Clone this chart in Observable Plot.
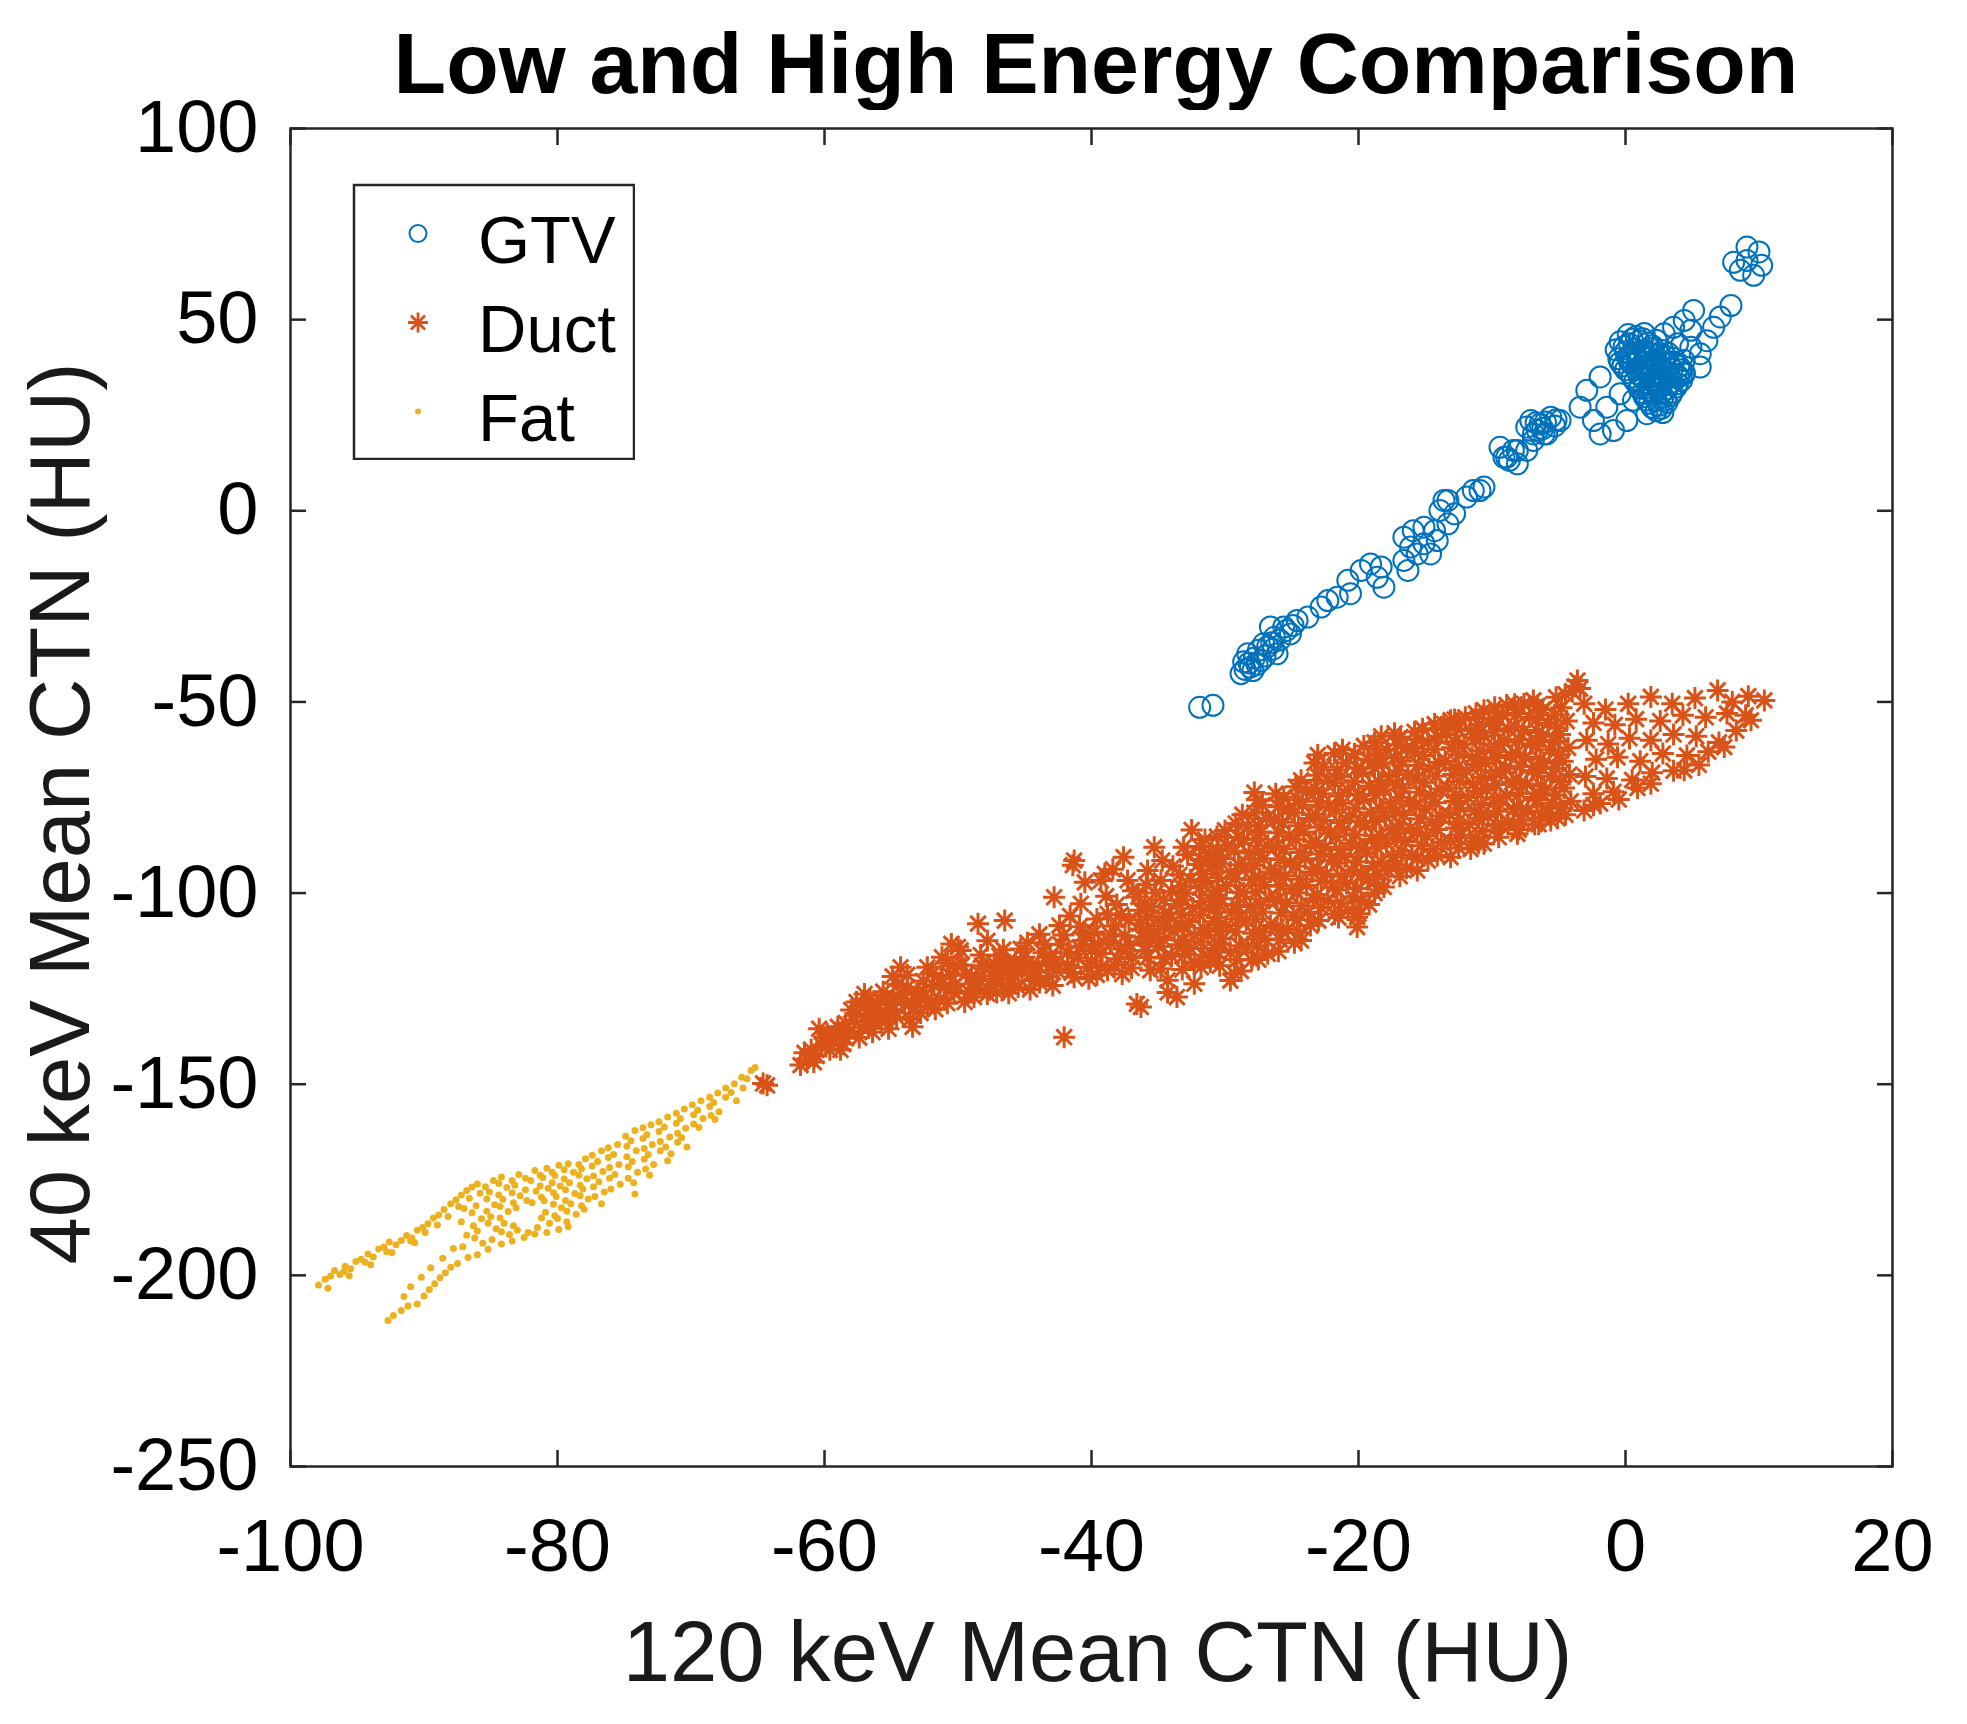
<!DOCTYPE html>
<html>
<head>
<meta charset="utf-8">
<script src="https://cdn.jsdelivr.net/npm/d3@7"></script>
<script src="https://cdn.jsdelivr.net/npm/@observablehq/plot@0.6"></script>
<style>
  html, body { margin: 0; padding: 0; background: #ffffff; }
  #wrap { position: relative; width: 1967px; height: 1724px; background: #ffffff; font-family: "Liberation Sans", Arial, Helvetica, sans-serif; }
  #title { position: absolute; left: 290px; width: 1612px; top: 20px; text-align: center; font-size: 86px; line-height: 86px; font-weight: bold; color: #000; }
  #chart { position: absolute; left: 0; top: 110px; }
  #legend { position: absolute; left: 351.5px; top: 182.5px; }
</style>
</head>
<body>
<div id="wrap">
  <div id="title">Low and High Energy Comparison</div>
  <div id="chart"></div>
  <div id="legend"></div>
</div>
<script>
// ---- Data ----
const titleText = "Low and High Energy Comparison";
const xLabel = "120 keV Mean CTN (HU)";
const yLabel = "40 keV Mean CTN (HU)";
const xTicks = [-100, -80, -60, -40, -20, 0, 20];
const yTicks = [-250, -200, -150, -100, -50, 0, 50, 100];
const seriesNames = ["GTV", "Duct", "Fat"];
const seriesColors = ["#0072BD", "#D95319", "#EDB120"];

// GTV: [120 keV, 40 keV]
const gtv = [
  [-31.9,-51.4],[-30.9,-50.9],
  [-28.8,-42.6],[-28.1,-40.9],[-28.3,-37.4],[-27.3,-39.2],[-27.1,-34.8],[-26.3,-33.1],[-26.1,-37.4],
  [-25.6,-30.4],[-25.1,-32.2],[-26.6,-30.4],[-24.6,-28.7],[-23.8,-27.8],[-22.8,-25.2],[-22.3,-23.5],
  [-21.6,-22.6],[-20.6,-21.7],[-20.8,-18.2],[-19.8,-15.6],[-19.1,-13.9],[-18.6,-17.4],[-18.1,-20.0],[-18.3,-14.7],
  [-28.5,-41.5],[-27.8,-38.5],[-27.5,-36.5],[-26.8,-35.5],[-26.5,-34.5],[-25.9,-33.8],[-25.4,-31.3],[-24.9,-30.0],
  [-27.9,-41.8],[-28.6,-39.5],[-28.2,-39.8],[-27.6,-40.2],[-27.0,-38.0],[-26.4,-36.2],
  [-16.6,-6.9],[-15.9,-5.2],[-15.1,-4.3],[-14.3,-5.2],[-16.1,-9.5],[-15.1,-8.6],[-14.1,-7.8],[-16.6,-13.0],
  [-15.6,-11.3],[-14.6,-11.3],[-16.3,-15.6],[-13.3,-3.4],[-12.8,-0.8],[-13.6,2.7],[-11.9,3.6],[-10.9,5.3],
  [-11.4,5.3],[-10.6,6.2],[-13.3,2.7],[-13.9,0.1],
  [-8.9,14.0],[-8.1,15.8],[-6.9,18.4],[-6.1,20.1],[-7.4,21.9],
  [-9.1,14.0],[-8.4,15.8],[-8.1,12.3],[-7.4,15.8],[-9.4,16.6],[-8.7,13.2],
  [-6.4,22.7],[-7.1,23.6],[-5.6,24.5],[-4.9,23.6],[-6.9,20.1],[-5.9,20.1],[-6.2,21.5],[-5.3,22.2],
  [-6.7,23.0],[-6.0,23.2],[-5.2,23.8],[-6.6,21.0],
  [-1.9,35.0],[-2.9,31.5],[-3.4,27.1],[-2.4,23.6],[-1.9,20.1],[-0.9,21.0],[0.1,23.6],[-1.4,27.1],
  [-0.4,30.6],[0.6,28.9],[1.6,25.4],[1.1,32.3],
  [0.2,46.1],[0.8,45.6],[1.4,46.4],
  [-0.4,44.2],[0.3,43.7],[1.0,44.4],[1.7,43.9],[2.3,44.6],
  [-0.7,42.1],[0.0,41.6],[0.7,42.3],[1.4,41.8],[2.1,42.5],[2.8,41.9],
  [-0.5,39.8],[0.2,40.3],[0.9,39.6],[1.6,40.2],[2.3,39.7],[3.0,40.4],[3.6,39.9],
  [-0.2,37.9],[0.5,38.4],[1.2,37.7],[1.9,38.2],[2.6,37.6],[3.3,38.3],[4.0,37.8],
  [0.3,36.1],[1.0,35.6],[1.7,36.3],[2.4,35.8],[3.1,36.4],[3.8,35.7],[4.4,36.2],
  [0.7,33.9],[1.4,34.4],[2.1,33.7],[2.8,34.2],[3.5,33.6],[4.2,34.1],
  [1.0,32.1],[1.7,31.6],[2.4,32.3],[3.1,31.8],[3.8,32.4],
  [1.4,29.8],[2.1,30.3],[2.8,29.7],[3.4,30.2],
  [1.8,28.1],[2.5,27.6],[3.1,28.3],
  [2.3,26.2],[2.8,25.7],
  [0.5,44.9],[1.3,45.0],[2.0,43.2],[-0.1,43.0],[0.4,41.0],[1.1,40.9],[1.8,41.1],[2.5,40.8],[3.2,41.2],
  [-0.4,38.8],[0.3,39.0],[1.5,38.9],[2.2,39.0],[2.9,38.8],[3.6,38.9],[0.0,36.9],[0.8,37.0],[1.4,36.9],
  [2.1,37.0],[2.8,36.8],[3.5,37.0],[4.2,36.9],[0.5,35.0],[1.2,35.1],[1.9,34.9],[2.6,35.0],[3.3,34.9],
  [4.0,35.0],[1.1,33.1],[1.8,33.0],[2.5,33.1],[3.2,33.0],[3.9,33.2],[1.3,30.9],[2.0,31.0],[2.7,30.9],
  [3.5,31.0],[1.6,29.0],[2.3,28.9],[3.0,29.0],[2.0,27.0],[2.7,26.8],
  [7.9,53.7],[7.1,50.7],[6.6,48.0],[6.1,44.5],[5.6,41.1],[5.6,37.6],[5.1,52.4],[4.4,49.8],
  [4.9,47.2],[4.9,42.8],[3.6,48.0],[2.9,46.3],[3.9,43.7],[4.4,39.3],[4.4,35.8],
  [8.1,65.0],[9.1,69.0],[10.0,67.7],[10.2,64.2],[9.6,61.6],[8.6,62.9],[9.1,65.5]
];

// Duct: [120 keV, 40 keV]
const duct = [
  [-64.3,-150.3],[-64.6,-149.8],
  [-61.8,-145.0],[-61.3,-143.5],[-61.5,-141.8],[-60.8,-144.2],
  [-60.2,-139.8],[-60.0,-137.7],[-59.6,-141.0],[-59.3,-138.5],[-60.4,-135.5],
  [-58.6,-139.5],[-58.2,-136.2],[-57.8,-133.4],[-58.0,-130.6],[-57.4,-137.8],
  [-57.0,-126.4],[-56.7,-131.8],[-56.4,-136.4],[-56.2,-134.0],[-56.0,-129.2],
  [-55.4,-133.5],[-55.0,-130.6],[-54.8,-127.4],[-54.5,-124.0],[-54.3,-119.4],[-55.2,-135.5],
  [-53.6,-133.0],[-53.3,-129.8],[-53.0,-126.2],[-52.6,-123.0],[-52.3,-119.4],[-52.8,-131.4],
  [-51.7,-130.4],[-51.4,-127.8],[-51.0,-124.6],[-50.6,-121.5],[-50.5,-113.3],[-50.0,-114.1],[-49.8,-115.0],[-50.8,-118.3],
  [-49.5,-128.5],[-49.2,-125.8],[-48.8,-127.2],[-48.5,-122.4],[-48.5,-108.0],[-48.0,-119.8],[-47.6,-124.0],
  [-47.1,-126.0],[-46.8,-121.2],[-46.5,-107.2],[-46.4,-118.6],[-46.0,-123.6],[-45.5,-124.6],[-45.2,-120.3],[-45.0,-116.8],
  [-44.3,-122.9],[-44.0,-119.0],[-43.6,-115.6],[-43.2,-121.8],[-42.8,-101.1],[-42.7,-118.2],[-42.3,-113.5],[-42.05,-137.7],
  [-41.3,-91.5],[-41.4,-92.7],[-41.3,-122.0],[-41.0,-117.0],[-40.8,-102.8],[-40.6,-112.4],[-40.3,-119.5],[-40.0,-115.0],[-39.8,-110.2],
  [-39.3,-96.7],[-39.3,-119.4],[-39.0,-95.0],[-38.8,-105.4],[-38.8,-120.2],[-38.6,-113.0],[-38.2,-108.6],[-38.0,-117.2],
  [-37.6,-90.6],[-37.3,-96.7],[-37.5,-111.2],
  [-59.0,-135.0],[-58.8,-141.0],[-57.6,-128.5],[-57.2,-135.2],[-56.6,-127.8],[-55.8,-132.2],[-55.6,-125.8],[-54.9,-121.8],
  [-54.0,-129.2],[-53.8,-121.4],[-53.4,-135.0],[-52.0,-128.4],[-51.9,-121.0],[-51.2,-116.8],[-50.3,-126.2],[-50.0,-119.0],
  [-49.0,-122.0],[-48.3,-116.2],[-47.8,-112.5],[-47.3,-118.4],[-46.6,-114.8],[-46.2,-126.2],[-45.7,-118.0],[-44.8,-113.0],
  [-44.6,-125.2],[-43.9,-110.8],[-43.4,-118.0],[-42.9,-124.2],[-42.4,-108.5],[-41.8,-115.6],[-41.6,-106.0],[-40.9,-108.8],
  [-40.5,-97.2],[-40.2,-122.4],[-39.6,-106.8],[-39.5,-113.4],[-38.9,-100.8],[-38.4,-93.8],[-38.1,-103.0],[-37.8,-114.6],
  [-37.2,-107.0],[-37.0,-119.6],[-36.9,-99.4],
  [-61.0,-141.0],[-60.6,-142.6],[-59.8,-136.8],[-59.9,-139.2],[-59.1,-137.2],[-58.4,-134.0],[-58.4,-138.0],[-57.6,-131.6],
  [-57.0,-129.8],[-56.8,-133.6],[-56.2,-131.0],[-55.8,-128.0],[-55.2,-129.0],[-54.6,-132.4],[-54.2,-126.4],[-53.8,-124.6],
  [-53.2,-127.8],[-52.6,-125.6],[-52.3,-129.6],[-51.8,-124.2],[-51.2,-122.4],[-50.8,-128.8],[-50.2,-123.8],[-49.7,-118.8],
  [-49.4,-121.2],[-48.6,-124.8],[-48.2,-119.0],[-47.8,-126.4],[-47.2,-121.6],[-46.9,-116.4],[-46.6,-124.4],[-46.2,-119.6],
  [-45.8,-121.6],[-45.3,-114.6],[-44.9,-118.6],[-44.4,-120.6],[-43.9,-123.4],[-43.5,-113.4],[-43.1,-116.8],[-42.6,-120.2],
  [-42.1,-111.0],[-41.8,-118.8],[-41.5,-120.8],[-40.9,-114.2],[-40.5,-110.4],[-40.0,-117.8],[-39.6,-121.4],[-39.2,-115.8],
  [-38.6,-110.8],[-38.3,-118.8],[-37.8,-105.6],[-37.7,-121.2],[-37.1,-113.6],[-36.9,-116.8],
  [-36.6,-129.0],[-36.3,-129.8],[-36.5,-101.0],[-36.3,-104.5],[-36.4,-108.0],[-36.2,-111.5],[-36.0,-115.0],
  [-35.9,-97.8],[-36.0,-102.8],[-35.8,-106.2],[-35.9,-109.6],[-35.7,-113.0],[-35.8,-116.8],[-35.6,-120.2],
  [-35.3,-88.0],[-35.8,-94.1],[-34.8,-96.7],[-35.2,-100.0],[-35.5,-103.5],[-35.0,-107.0],[-35.3,-110.5],[-35.0,-114.0],[-34.6,-117.0],
  [-34.7,-91.5],[-34.6,-101.8],[-34.5,-105.2],[-34.5,-108.6],[-34.6,-112.2],[-34.8,-119.8],
  [-34.3,-122.8],[-34.3,-126.0],[-33.6,-127.2],[-33.9,-93.0],[-34.0,-99.5],[-33.6,-103.0],[-34.1,-106.5],[-33.8,-110.0],[-33.5,-113.5],[-34.0,-116.5],
  [-33.4,-95.2],[-33.3,-98.2],[-33.2,-101.8],[-33.3,-105.4],[-33.2,-108.8],[-33.1,-112.4],[-33.0,-116.0],[-33.2,-120.0],
  [-33.1,-88.0],[-32.5,-83.5],[-32.8,-90.0],[-32.6,-96.5],[-32.9,-100.0],[-32.4,-104.0],[-32.7,-107.5],[-32.3,-111.0],[-32.6,-114.5],[-32.3,-118.0],[-32.3,-123.7],[-32.0,-92.5],
  [-31.9,-87.8],[-31.8,-91.2],[-31.7,-95.0],[-31.9,-98.6],[-31.7,-102.2],[-31.9,-105.8],[-31.6,-109.2],[-31.8,-112.8],[-31.6,-116.2],
  [-31.5,-86.0],[-31.2,-89.5],[-31.0,-93.0],[-31.4,-97.0],[-30.9,-100.5],[-31.2,-104.0],[-30.8,-107.5],[-31.3,-111.0],[-30.8,-114.5],[-31.1,-118.0],[-31.8,-119.4],
  [-30.6,-85.2],[-30.5,-88.8],[-30.7,-92.4],[-30.5,-96.0],[-30.6,-99.4],[-30.4,-103.0],[-30.6,-106.4],[-30.4,-110.0],[-30.5,-113.4],[-30.7,-116.8],
  [-30.0,-83.6],[-29.8,-87.5],[-30.2,-91.0],[-29.6,-94.5],[-29.9,-98.0],[-30.3,-101.5],[-29.5,-105.0],[-29.9,-108.5],[-30.2,-112.0],[-29.6,-115.5],[-29.3,-121.1],[-29.6,-122.9],[-30.4,-119.0],
  [-29.2,-81.8],[-29.0,-85.4],[-29.3,-89.0],[-29.0,-92.6],[-29.2,-96.2],[-28.9,-99.8],[-29.1,-103.2],[-29.0,-106.8],[-29.2,-110.2],[-28.9,-113.8],[-29.1,-117.4],[-28.8,-120.4],
  [-28.7,-79.5],[-28.3,-82.5],[-28.6,-86.0],[-28.2,-89.5],[-28.5,-93.0],[-28.0,-96.5],[-28.6,-100.0],[-28.1,-103.5],[-28.4,-107.0],[-27.9,-110.5],[-28.3,-114.0],[-28.0,-117.5],
  [-27.6,-75.6],[-27.8,-79.0],[-27.5,-82.4],[-27.7,-85.8],[-27.5,-89.2],[-27.8,-92.8],[-27.4,-96.2],[-27.7,-99.8],[-27.4,-103.2],[-27.7,-106.8],[-27.4,-110.2],[-27.6,-113.8],[-27.5,-117.4],
  [-27.8,-73.7],[-27.2,-77.0],[-26.9,-80.5],[-27.3,-84.0],[-26.8,-87.5],[-27.1,-91.0],[-26.6,-94.5],[-27.0,-98.0],[-26.7,-101.5],[-27.2,-105.0],[-26.6,-108.5],[-27.0,-112.0],[-26.8,-115.9],
  [-26.2,-74.0],[-26.0,-77.4],[-26.3,-80.8],[-26.0,-84.2],[-26.2,-87.8],[-25.9,-91.2],[-26.2,-94.8],[-25.9,-98.2],[-26.1,-101.8],[-25.8,-105.2],[-26.1,-108.8],[-25.9,-112.2],[-26.0,-115.2],
  [-25.6,-74.9],[-25.3,-78.0],[-25.7,-81.5],[-25.2,-85.0],[-25.6,-88.5],[-25.1,-92.0],[-25.5,-95.5],[-25.0,-99.0],[-25.4,-102.5],[-24.9,-106.0],[-25.3,-109.5],[-24.8,-113.0],
  [-24.7,-72.2],[-24.5,-75.6],[-24.8,-79.0],[-24.5,-82.4],[-24.7,-86.0],[-24.4,-89.4],[-24.7,-93.0],[-24.4,-96.4],[-24.6,-100.0],[-24.3,-103.4],[-24.6,-107.0],[-24.4,-110.4],
  [-24.3,-70.5],[-23.9,-73.5],[-24.2,-77.0],[-23.7,-80.5],[-24.1,-84.0],[-23.6,-87.5],[-24.0,-91.0],[-23.5,-94.5],[-23.9,-98.0],[-23.4,-101.5],[-23.8,-105.0],[-24.3,-112.4],[-23.6,-108.5],
  [-23.3,-66.0],[-23.1,-69.2],[-23.3,-72.6],[-23.0,-76.0],[-23.2,-79.4],[-22.9,-82.8],[-23.2,-86.4],[-22.9,-89.8],[-23.1,-93.4],[-22.8,-96.8],[-23.1,-100.4],[-22.8,-103.8],[-23.0,-107.2],
  [-23.05,-63.9],[-22.6,-67.0],[-22.3,-70.5],[-22.7,-74.0],[-22.2,-77.5],[-22.6,-81.0],[-22.1,-84.5],[-22.5,-88.0],[-22.0,-91.5],[-22.4,-95.0],[-21.9,-98.5],[-22.3,-102.0],[-21.8,-105.5],
  [-21.8,-63.4],[-21.6,-67.8],[-21.8,-71.2],[-21.5,-74.6],[-21.7,-78.2],[-21.4,-81.6],[-21.7,-85.2],[-21.4,-88.6],[-21.6,-92.2],[-21.3,-95.6],[-21.6,-99.2],[-21.3,-102.6],[-21.5,-106.4],
  [-21.2,-62.5],[-20.9,-66.0],[-21.3,-69.5],[-20.8,-73.0],[-21.2,-76.5],[-20.7,-80.0],[-21.1,-83.5],[-20.6,-87.0],[-21.0,-90.5],[-20.5,-94.0],[-20.9,-97.5],[-20.4,-101.0],[-20.8,-104.5],[-20.1,-108.9],[-20.1,-106.3],
  [-20.3,-63.6],[-20.1,-67.2],[-20.3,-70.8],[-20.0,-74.2],[-20.2,-77.8],[-19.9,-81.2],[-20.2,-84.8],[-19.9,-88.2],[-20.1,-91.8],[-19.8,-95.2],[-20.1,-98.8],[-19.8,-102.2],[-20.0,-105.4],
  [-19.6,-61.5],[-19.3,-65.0],[-19.7,-68.5],[-19.2,-72.0],[-19.6,-75.5],[-19.1,-79.0],[-19.5,-82.5],[-19.0,-86.0],[-19.4,-89.5],[-18.9,-93.0],[-19.3,-96.5],[-18.8,-100.0],[-19.2,-103.0],
  [-18.8,-60.6],[-18.6,-63.8],[-18.8,-67.2],[-18.5,-70.8],[-18.7,-74.2],[-18.4,-77.8],[-18.7,-81.2],[-18.4,-84.8],[-18.6,-88.2],[-18.3,-91.8],[-18.6,-95.2],[-18.5,-98.0],
  [-18.3,-59.0],[-17.9,-62.5],[-18.2,-66.0],[-17.7,-69.5],[-18.1,-73.0],[-17.6,-76.5],[-18.0,-80.0],[-17.5,-83.5],[-17.9,-87.0],[-17.4,-90.5],[-17.8,-94.0],[-18.1,-98.4],
  [-17.3,-58.2],[-17.1,-61.2],[-17.3,-64.6],[-17.0,-68.0],[-17.2,-71.6],[-16.9,-75.0],[-17.2,-78.6],[-16.9,-82.0],[-17.1,-85.6],[-16.8,-89.0],[-17.1,-92.6],[-16.9,-95.6],
  [-16.85,-59.2],[-16.4,-62.0],[-16.8,-65.5],[-16.3,-69.0],[-16.7,-72.5],[-16.2,-76.0],[-16.6,-79.5],[-16.1,-83.0],[-16.5,-86.5],[-16.0,-90.0],[-16.4,-93.5],[-15.6,-94.1],
  [-15.8,-57.8],[-15.6,-59.8],[-15.8,-63.2],[-15.5,-66.6],[-15.7,-70.2],[-15.4,-73.6],[-15.7,-77.2],[-15.4,-80.6],[-15.6,-84.2],[-15.3,-87.6],[-15.6,-91.0],
  [-15.2,-57.0],[-14.8,-60.5],[-15.2,-64.0],[-14.7,-67.5],[-15.1,-71.0],[-14.6,-74.5],[-15.0,-78.0],[-14.5,-81.5],[-14.9,-85.0],[-14.4,-88.5],[-14.8,-91.5],
  [-14.3,-55.8],[-14.1,-59.0],[-14.3,-62.4],[-14.0,-65.8],[-14.2,-69.4],[-13.9,-72.8],[-14.2,-76.4],[-13.9,-79.8],[-14.1,-83.4],[-13.8,-86.8],[-14.1,-90.2],
  [-13.6,-55.7],[-13.1,-54.8],[-13.4,-58.5],[-13.0,-62.0],[-13.5,-65.5],[-12.9,-69.0],[-13.3,-72.5],[-12.8,-76.0],[-13.2,-79.5],[-12.7,-83.0],[-13.1,-86.5],[-13.1,-90.6],
  [-12.8,-54.6],[-12.6,-57.0],[-12.8,-60.4],[-12.5,-63.8],[-12.7,-67.4],[-12.4,-70.8],[-12.7,-74.4],[-12.4,-77.8],[-12.6,-81.4],[-12.3,-84.8],[-12.5,-88.2],
  [-12.0,-54.0],[-11.6,-57.5],[-12.1,-61.0],[-11.5,-64.5],[-11.9,-68.0],[-11.4,-71.5],[-11.8,-75.0],[-11.3,-78.5],[-11.7,-82.0],[-11.2,-85.5],[-11.6,-88.5],
  [-11.2,-53.0],[-11.0,-56.0],[-11.2,-59.4],[-10.9,-62.8],[-11.1,-66.4],[-10.8,-69.8],[-11.1,-73.4],[-10.8,-76.8],[-11.0,-80.4],[-10.7,-83.8],[-11.0,-87.0],
  [-10.6,-52.2],[-10.2,-55.5],[-10.6,-59.0],[-10.1,-62.5],[-10.5,-66.0],[-10.0,-69.5],[-10.4,-73.0],[-9.9,-76.5],[-10.3,-80.0],[-9.8,-83.5],[-10.6,-87.1],
  [-9.8,-51.4],[-9.6,-54.2],[-9.8,-57.6],[-9.5,-61.0],[-9.7,-64.6],[-9.4,-68.0],[-9.7,-71.6],[-9.4,-75.0],[-9.6,-78.6],[-9.3,-82.0],[-9.5,-85.4],
  [-8.9,-50.8],[-9.2,-53.5],[-8.8,-57.0],[-9.1,-60.5],[-8.6,-64.0],[-9.0,-67.5],[-8.5,-71.0],[-8.9,-74.5],[-8.4,-78.0],[-8.8,-81.5],[-8.1,-84.5],
  [-8.3,-50.6],[-8.1,-53.0],[-8.3,-56.4],[-8.0,-59.8],[-8.2,-63.4],[-7.9,-66.8],[-8.2,-70.4],[-7.9,-73.8],[-8.1,-77.4],[-7.8,-80.8],[-8.0,-83.4],
  [-7.6,-50.5],[-7.2,-54.0],[-7.6,-57.5],[-7.1,-61.0],[-7.5,-64.5],[-7.0,-68.0],[-7.4,-71.5],[-6.9,-75.0],[-7.3,-78.5],[-6.8,-82.0],
  [-6.6,-51.0],[-6.7,-54.6],[-6.5,-58.0],[-6.7,-61.6],[-6.4,-65.0],[-6.6,-68.6],[-6.3,-72.0],[-6.6,-75.6],[-6.3,-79.0],[-6.5,-82.0],
  [-6.9,-49.6],[-6.2,-52.0],[-5.8,-55.5],[-6.2,-59.0],[-5.7,-62.5],[-6.1,-66.0],[-5.6,-69.5],[-6.0,-73.0],[-5.5,-76.5],[-5.6,-81.0],[-5.9,-79.0],
  [-5.2,-48.8],[-5.3,-53.4],[-5.1,-56.8],[-5.3,-60.4],[-5.0,-63.8],[-5.2,-67.4],[-4.9,-70.8],[-5.2,-74.4],[-4.9,-77.8],[-5.1,-80.4],
  [-4.5,-48.0],[-4.8,-51.5],[-4.4,-55.0],[-4.9,-58.5],[-4.3,-62.0],[-4.7,-65.5],[-4.2,-69.0],[-4.6,-72.5],[-4.1,-76.0],[-4.5,-79.5],
  [-3.6,-44.4],[-3.8,-45.9],[-4.0,-47.2],[-3.4,-46.5],
  [-3.1,-50.5],[-1.5,-52.0],[0.2,-50.5],[1.9,-48.7],[3.5,-50.5],[5.2,-49.0],[6.9,-47.0],[8.0,-50.0],[9.2,-48.5],[10.4,-49.6],
  [-2.4,-55.5],[-0.8,-56.0],[0.8,-54.5],[2.6,-55.0],[4.3,-53.5],[6.0,-54.0],[7.6,-53.0],[9.0,-53.5],
  [-2.9,-60.0],[-1.3,-61.0],[0.3,-59.5],[1.9,-60.0],[3.6,-58.5],[5.3,-59.0],[7.0,-60.6],[8.3,-57.5],[9.4,-54.8],
  [-2.2,-65.0],[-0.6,-64.5],[1.1,-65.5],[2.8,-63.5],[4.6,-64.0],[6.2,-63.0],[7.4,-61.8],
  [-3.0,-69.5],[-1.4,-70.0],[0.5,-70.4],[2.0,-68.5],[3.6,-68.0],[4.4,-67.9],[5.5,-66.5],
  [-2.4,-74.0],[-0.9,-73.5],[0.9,-72.5],[1.9,-71.4],
  [-2.4,-77.0],[-1.9,-76.6],[-3.1,-78.4],[-0.5,-75.5]
];

// Fat: [120 keV, 40 keV]
const fat = [
  [-97.9,-202.5],[-97.4,-201.0],[-97.0,-200.2],[-96.7,-198.7],[-96.3,-199.8],[-95.9,-197.6],[-95.5,-198.3],[-95.1,-196.4],
  [-94.7,-195.8],[-94.2,-194.4],[-93.8,-195.2],[-93.4,-193.1],[-93.0,-192.6],[-92.6,-191.3],[-92.1,-192.0],[-91.7,-190.9],
  [-91.3,-189.6],[-90.9,-190.2],[-90.5,-188.2],[-90.1,-187.5],[-89.7,-186.5],[-89.3,-185.0],[-88.9,-184.2],[-88.5,-182.8],
  [-88.0,-181.3],[-87.6,-180.2],[-87.2,-179.0],[-86.8,-177.8],[-86.4,-176.9],[-86.0,-176.1],
  [-97.2,-203.4],[-95.6,-200.1],[-94.0,-197.2],[-92.4,-194.0],[-90.7,-191.5],
  [-96.0,-199.0],[-94.4,-196.6],[-92.8,-193.8],[-91.0,-191.0],[-89.9,-188.8],[-89.0,-186.8],[-88.2,-184.6],[-87.4,-182.0],[-86.6,-179.8],
  [-92.7,-211.8],[-92.3,-210.5],[-91.7,-209.2],[-91.2,-208.0],[-90.5,-207.5],[-90.0,-205.4],[-89.6,-203.7],[-89.2,-202.2],
  [-88.8,-200.6],[-88.4,-199.3],[-88.0,-197.9],[-87.5,-196.9],[-86.7,-195.3],[-86.0,-194.6],[-85.2,-193.2],[-84.2,-191.8],
  [-83.4,-191.0],[-82.5,-190.1],[-81.7,-189.2],[-80.8,-188.8],[-79.9,-188.0],[-79.2,-187.3],
  [-91.5,-205.5],[-91.0,-203.0],[-90.2,-200.5],[-89.5,-198.0],[-88.6,-195.5],[-87.8,-193.0],
  [-87.0,-182.5],[-87.2,-186.0],[-86.8,-189.5],[-87.1,-192.5],
  [-85.8,-178.5],[-86.1,-181.8],[-85.7,-185.2],[-86.0,-188.4],[-85.6,-191.6],
  [-86.4,-183.6],[-86.3,-187.0],[-86.2,-190.2],[-85.4,-176.8],[-85.3,-180.0],[-85.3,-183.2],[-85.2,-186.4],
  [-84.8,-175.2],[-85.1,-178.2],[-84.7,-181.5],[-85.0,-184.7],[-84.6,-187.8],[-84.9,-190.6],
  [-84.4,-176.0],[-84.4,-179.0],[-84.3,-182.0],[-84.3,-185.0],[-84.2,-188.6],
  [-84.2,-174.3],[-83.8,-177.0],[-84.1,-180.1],[-83.7,-183.3],[-84.0,-186.4],[-83.6,-189.3],
  [-83.4,-175.2],[-83.4,-178.4],[-83.3,-181.0],[-83.3,-187.0],
  [-82.9,-173.6],[-83.2,-176.4],[-82.8,-179.2],[-83.1,-182.3],[-83.0,-188.2],
  [-82.4,-174.6],[-82.4,-177.6],[-82.3,-180.4],[-82.2,-188.8],
  [-81.7,-172.6],[-82.0,-175.2],[-81.6,-178.0],[-81.9,-181.0],[-81.5,-187.5],
  [-81.3,-173.8],[-81.3,-176.6],[-81.2,-179.6],[-81.2,-185.0],
  [-80.8,-172.0],[-81.1,-174.4],[-80.7,-177.2],[-81.0,-180.5],[-80.6,-186.4],[-80.9,-183.5],
  [-80.4,-173.0],[-80.4,-175.8],[-80.3,-178.4],[-80.3,-181.4],[-80.2,-184.4],
  [-79.9,-171.2],[-80.2,-173.9],[-79.8,-176.6],[-80.1,-179.4],[-79.7,-182.3],[-80.0,-185.1],
  [-79.5,-172.4],[-79.5,-174.8],[-79.4,-177.6],[-79.4,-180.4],[-79.3,-183.2],[-79.3,-186.0],
  [-79.2,-170.8],[-78.8,-173.0],[-79.1,-175.8],[-78.7,-178.6],[-79.0,-181.3],[-78.6,-184.0],
  [-78.4,-171.0],[-78.4,-173.8],[-78.3,-176.4],[-78.3,-179.2],[-78.2,-181.8],
  [-77.9,-169.5],[-78.2,-172.1],[-77.8,-174.7],[-78.1,-177.4],[-77.7,-180.0],[-78.0,-182.7],
  [-77.4,-168.6],[-77.4,-171.4],[-77.3,-174.0],[-77.3,-176.8],[-77.2,-179.4],
  [-76.7,-167.4],[-77.0,-170.2],[-76.6,-172.8],[-76.9,-175.5],[-76.5,-178.2],[-76.7,-181.3],
  [-76.2,-166.6],[-76.2,-169.2],[-76.1,-171.8],[-76.1,-174.6],[-76.0,-177.4],
  [-75.5,-165.8],[-75.8,-168.4],[-75.4,-171.0],[-75.7,-173.6],[-75.3,-176.2],
  [-74.9,-163.6],[-74.8,-166.2],[-74.8,-169.0],[-74.7,-171.6],[-74.7,-174.6],
  [-74.2,-162.1],[-74.5,-164.8],[-74.1,-167.4],[-74.4,-170.2],[-74.0,-173.0],[-74.3,-175.8],[-74.2,-178.7],
  [-73.6,-161.4],[-73.6,-164.2],[-73.5,-166.8],[-73.5,-169.6],[-73.4,-172.2],
  [-73.0,-160.6],[-73.3,-163.2],[-72.9,-165.8],[-73.2,-168.4],[-72.8,-171.0],[-73.1,-173.8],
  [-72.4,-159.8],[-72.4,-162.4],[-72.3,-165.0],[-72.3,-167.4],
  [-71.75,-158.6],[-72.0,-161.2],[-71.6,-163.8],[-71.9,-166.4],[-71.5,-168.2],[-71.75,-170.0],
  [-71.1,-157.6],[-71.1,-160.2],[-71.0,-162.8],[-71.0,-165.2],
  [-70.5,-156.5],[-70.8,-159.0],[-70.4,-161.5],[-70.7,-164.0],[-70.3,-166.4],
  [-69.9,-155.4],[-69.8,-158.0],[-69.8,-160.4],
  [-69.25,-154.3],[-69.5,-156.8],[-69.1,-159.0],[-69.4,-161.3],
  [-68.6,-153.4],[-68.6,-155.8],[-68.5,-158.2],
  [-68.0,-152.3],[-68.3,-154.8],[-67.9,-157.2],[-68.2,-159.2],
  [-67.4,-151.0],[-67.4,-153.4],
  [-66.75,-149.9],[-67.0,-152.2],[-66.6,-154.3],
  [-66.2,-148.2],[-66.1,-151.0],
  [-65.5,-146.4],[-65.8,-148.6],[-65.2,-145.6]
];

// ---- Drawing ----
const FONT = "Liberation Sans, Arial, Helvetica, sans-serif";
const frameColor = "#262626";

// MATLAB-style "*" marker: a plus overlaid with an x
const starSymbol = {
  draw(context, size) {
    const r = Math.sqrt(size / Math.PI);
    const d = r * Math.SQRT1_2;
    context.moveTo(0, -r); context.lineTo(0, r);
    context.moveTo(-r, 0); context.lineTo(r, 0);
    context.moveTo(-d, -d); context.lineTo(d, d);
    context.moveTo(-d, d); context.lineTo(d, -d);
  }
};

const fmt = d => String(d);

const chart = Plot.plot({
  width: 1967,
  height: 1614,
  marginTop: 18,
  marginLeft: 290,
  marginRight: 75,
  marginBottom: 258,
  style: { fontFamily: FONT, background: "#ffffff", color: "#000000", overflow: "visible" },
  x: { domain: [-100, 20] },
  y: { domain: [-250, 100] },
  marks: [
    Plot.dot(gtv, { x: d => d[0], y: d => d[1], r: 10.5, stroke: seriesColors[0], strokeWidth: 2, fill: "none" }),
    Plot.dot(duct, { x: d => d[0], y: d => d[1], r: 11, symbol: starSymbol, stroke: seriesColors[1], strokeWidth: 3, fill: "none" }),
    Plot.dot(fat, { x: d => d[0], y: d => d[1], r: 3.5, fill: seriesColors[2], stroke: null }),
    Plot.frame({ stroke: frameColor, strokeWidth: 2.5 }),
    Plot.axisX(xTicks, { anchor: "bottom", tickSize: 0, tickPadding: 52, fontSize: 74, tickFormat: fmt, label: null, fill: "#000" }),
    Plot.axisX(xTicks, { anchor: "bottom", tickSize: -16, text: null, label: null, stroke: frameColor, strokeWidth: 2.5 }),
    Plot.axisX(xTicks, { anchor: "top", tickSize: -16, text: null, label: null, stroke: frameColor, strokeWidth: 2.5 }),
    Plot.axisY(yTicks, { anchor: "left", tickSize: 0, tickPadding: 32, fontSize: 74, tickFormat: fmt, label: null, fill: "#000" }),
    Plot.axisY(yTicks, { anchor: "left", tickSize: -16, text: null, label: null, stroke: frameColor, strokeWidth: 2.5 }),
    Plot.axisY(yTicks, { anchor: "right", tickSize: -16, text: null, label: null, stroke: frameColor, strokeWidth: 2.5 }),
    Plot.text([xLabel], { frameAnchor: "bottom", text: d => d, dx: 6, dy: 187, fontSize: 85, lineAnchor: "middle", textAnchor: "middle", fill: "#1a1a1a" }),
    Plot.text([yLabel], { frameAnchor: "left", text: d => d, rotate: -90, dx: -229, dy: 16, fontSize: 85, lineAnchor: "middle", textAnchor: "middle", fill: "#1a1a1a" })
  ]
});
document.getElementById("chart").appendChild(chart);

// Legend, built with Plot as well
const legendRows = seriesNames.map((name, i) => ({ name, color: seriesColors[i] }));
const legend = Plot.plot({
  width: 283,
  height: 277,
  marginTop: 1.5, marginBottom: 1.5, marginLeft: 1.5, marginRight: 1.5,
  style: { fontFamily: FONT, background: "#ffffff", color: "#000000" },
  x: { domain: [0, 1], range: [65.5, 125.5], axis: null },
  y: { type: "point", domain: seriesNames, range: [49.5, 227.5], padding: 0, axis: null },
  marks: [
    Plot.frame({ stroke: frameColor, strokeWidth: 2.5, fill: "#ffffff" }),
    Plot.dot(legendRows.filter(d => d.name === "GTV"), { x: () => 0, y: "name", r: 8.5, stroke: d => d.color, strokeWidth: 2, fill: "none" }),
    Plot.dot(legendRows.filter(d => d.name === "Duct"), { x: () => 0, y: "name", r: 10, symbol: starSymbol, stroke: d => d.color, strokeWidth: 2.8, fill: "none" }),
    Plot.dot(legendRows.filter(d => d.name === "Fat"), { x: () => 0, y: "name", r: 3, fill: d => d.color, stroke: null }),
    Plot.text(legendRows, { x: () => 1, y: "name", text: "name", dy: 8.5, fontSize: 67, textAnchor: "start", lineAnchor: "middle", fill: "#000" })
  ]
});
document.getElementById("legend").appendChild(legend);
</script>
</body>
</html>
